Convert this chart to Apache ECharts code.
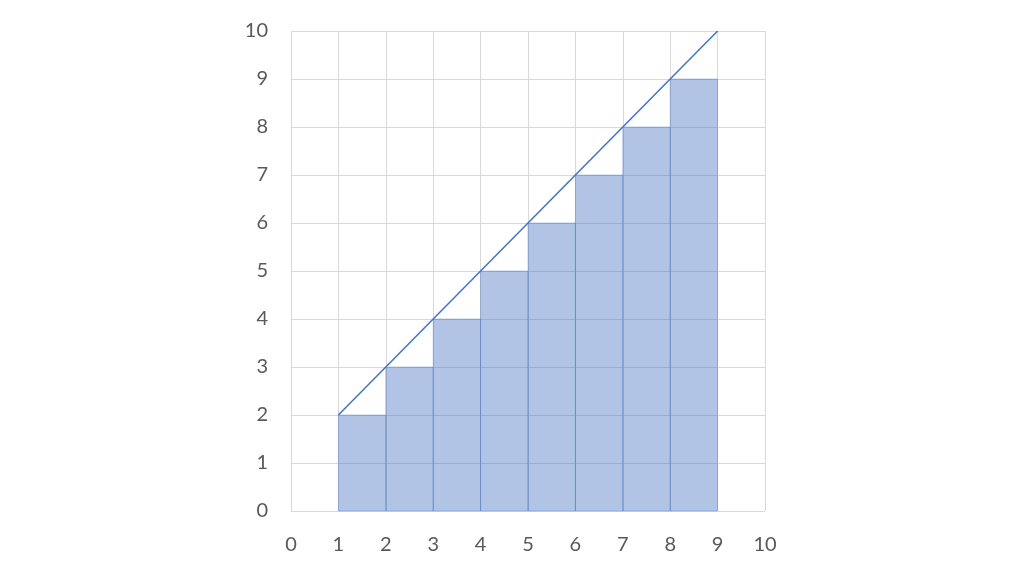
<!DOCTYPE html>
<html>
<head>
<meta charset="utf-8">
<script src="https://cdn.jsdelivr.net/npm/echarts@6/dist/echarts.min.js"></script>
<style>html,body{margin:0;padding:0;background:#fff}#c{width:1024px;height:576px}</style>
</head>
<body>
<div id="c"></div>
<script>
const barStart = [1, 2, 3, 4, 5, 6, 7, 8];
const barHeight = [2, 3, 4, 5, 6, 7, 8, 9];
const lineX = [1, 9];
const lineY = [2, 10];

const chart = echarts.init(document.getElementById('c'), null, {renderer: 'canvas'});
const axisCommon = {
  type: 'value', min: 0, max: 10, interval: 1,
  axisLine: {show: false}, axisTick: {show: false},
  splitLine: {show: true, lineStyle: {color: '#d9d9d9', width: 1}},
  axisLabel: {color: '#595959', fontSize: 20, fontFamily: 'Lato'}
};
chart.setOption({
  animation: false,
  grid: {left: 291, right: 259, top: 31, bottom: 65},
  xAxis: Object.assign({}, axisCommon, {axisLabel: Object.assign({}, axisCommon.axisLabel, {margin: 24})}),
  yAxis: Object.assign({}, axisCommon, {axisLabel: Object.assign({}, axisCommon.axisLabel, {margin: 23})}),
  series: [
    {
      type: 'custom',
      data: barStart.map((x, i) => [x, barHeight[i]]),
      renderItem: function (params, api) {
        const x0 = api.value(0), h = api.value(1);
        const p0 = api.coord([x0, 0]);
        const p1 = api.coord([x0 + 1, h]);
        return {
          type: 'rect',
          shape: {x: p0[0], y: p1[1], width: p1[0] - p0[0], height: p0[1] - p1[1]},
          style: {fill: 'rgba(68,114,196,0.42)', stroke: 'rgba(68,114,196,0.35)', lineWidth: 1}
        };
      },
      z: 2
    },
    {
      type: 'line',
      data: lineX.map((x, i) => [x, lineY[i]]),
      symbol: 'none',
      lineStyle: {color: '#4472c4', width: 1.5},
      z: 3
    }
  ]
});
</script>
</body>
</html>
